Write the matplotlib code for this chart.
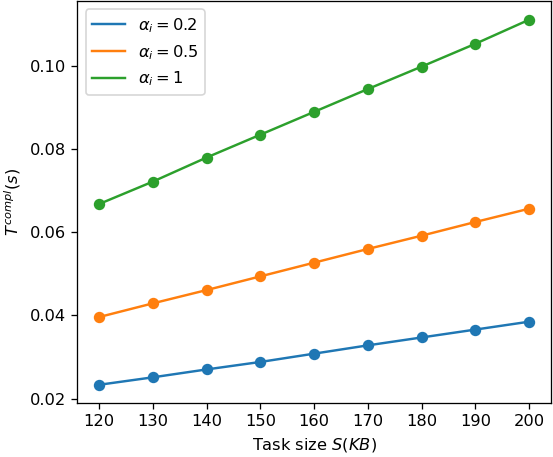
import numpy as np
import matplotlib
matplotlib.use("Agg")
import matplotlib.pyplot as plt

task_size = [120, 130, 140, 150, 160, 170, 180, 190, 200]
t_alpha_02 = [0.0233, 0.0251, 0.0270, 0.0288, 0.0308, 0.0328, 0.0347, 0.0366, 0.0385]
t_alpha_05 = [0.0396, 0.0429, 0.0461, 0.0494, 0.0527, 0.0560, 0.0592, 0.0625, 0.0657]
t_alpha_1 = [0.0668, 0.0722, 0.0780, 0.0835, 0.0890, 0.0945, 0.0999, 0.1054, 0.1112]
labels = [r"$\alpha_i = 0.2$", r"$\alpha_i = 0.5$", r"$\alpha_i = 1$"]

# source image looks rendered ~1.17x larger than default, so bump dpi
DPI = 117
fig = plt.figure(figsize=(553 / DPI, 457 / DPI), dpi=DPI)
ax = fig.add_axes([0.140, 0.118, 0.856, 0.879])

for ys, lab in zip([t_alpha_02, t_alpha_05, t_alpha_1], labels):
    line, = ax.plot(task_size, ys, label=lab)
    ax.scatter(task_size, ys, color=line.get_color())

ax.set_xticks(task_size)
ax.set_yticks([0.02, 0.04, 0.06, 0.08, 0.10])
ax.set_xlabel(r"Task size $S(KB)$")
ax.set_ylabel(r"$T^{compl}(s)$")
ax.legend(loc="upper left")

fig.savefig("out.png", dpi=DPI)
